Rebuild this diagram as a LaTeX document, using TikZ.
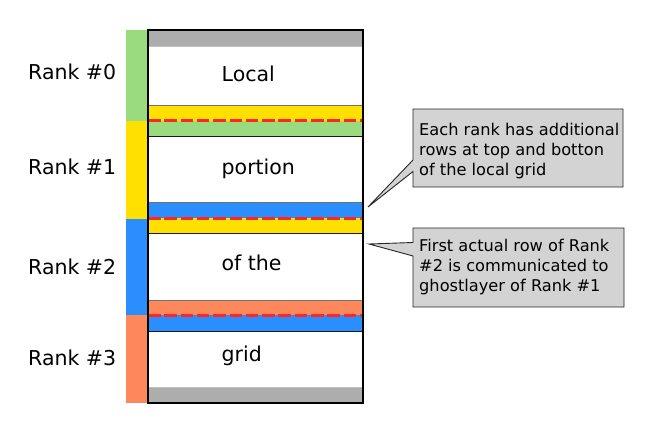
\documentclass[tikz,border=0pt]{standalone}
\usepackage{fontspec}
\setmainfont{DejaVu Sans}
\definecolor{rgreen}{HTML}{99DB7E}
\definecolor{ryellow}{HTML}{FFE000}
\definecolor{rblue}{HTML}{2A8EFF}
\definecolor{rsalmon}{HTML}{FF875C}
\definecolor{rgray}{HTML}{ADADAD}
\definecolor{rcall}{HTML}{D3D3D3}
\definecolor{rred}{HTML}{FF2626}
\begin{document}
\begin{tikzpicture}[x=1pt,y=-1pt,
  lbl/.style={inner sep=0pt, anchor=base west, font=\fontsize{20.5}{25}\selectfont},
  calltext/.style={inner sep=0pt, anchor=west, align=left, font=\fontsize{16.2}{20}\selectfont},
  callshape/.style={draw=black!85, fill=rcall, line width=0.9pt, line join=miter},
  ghost/.style={draw=rred, line width=3pt, dash pattern=on 12.5pt off 3.8pt},
  sepgray/.style={draw=black!55, line width=0.8pt},
  sepblack/.style={draw=black!90, line width=0.8pt}]
\useasboundingbox (0,0) rectangle (654,434);
% left rank strip
\fill[rgreen] (126,30) rectangle (148,121);
\fill[ryellow] (126,121) rectangle (148,218.5);
\fill[rblue] (126,218.5) rectangle (148,315);
\fill[rsalmon] (126,315) rectangle (148,403);
% bands in the grid
\fill[rgray] (148,30) rectangle (363,46);
\fill[ryellow] (148,105) rectangle (363,120.5);
\fill[rgreen] (148,120.5) rectangle (363,136);
\fill[rblue] (148,202.5) rectangle (363,218);
\fill[ryellow] (148,218) rectangle (363,233);
\fill[rsalmon] (148,300) rectangle (363,315);
\fill[rblue] (148,315) rectangle (363,331);
\fill[rgray] (148,387) rectangle (363,403);
% separators
\draw[sepgray] (148,105) -- (363,105);
\draw[sepgray] (148,202.5) -- (363,202.5);
\draw[sepgray] (148,300) -- (363,300);
\draw[draw=black!25, line width=0.8pt] (148,46) -- (363,46);
\draw[draw=black!25, line width=0.8pt] (148,387) -- (363,387);
\draw[sepblack] (148,136) -- (363,136);
\draw[sepblack] (148,233) -- (363,233);
\draw[sepblack] (148,331) -- (363,331);
% ghost layer dashed lines
\draw[ghost] (148,120.5) -- (363,120.5);
\draw[ghost] (148,218) -- (363,218);
\draw[ghost] (148,315) -- (363,315);
% grid outline
\draw[line width=1.3pt] (148,30) rectangle (363,403);
% rank labels
\node[lbl] (r0) at (28,79) {Rank \#0};
\node[lbl] (r1) at (28,174.3) {Rank \#1};
\node[lbl] (r2) at (28,274.3) {Rank \#2};
\node[lbl] (r3) at (28,365) {Rank \#3};
% grid labels
\node[lbl] (t0) at (221.5,81) {Local};
\node[lbl] (t1) at (221.5,174.3) {portion};
\node[lbl] (t2) at (221.5,270) {of the};
\node[lbl] (t3) at (221.5,361) {grid};
% callouts
\coordinate (tip1) at (368,207);
\coordinate (tip2) at (369,244);
\draw[callshape] (413,109) -- (623,109) -- (623,187) -- (413,187) -- (413,171.5) -- (tip1) -- (413,160) -- cycle;
\draw[callshape] (413,228) -- (624,228) -- (624,307) -- (413,307) -- (413,256) -- (tip2) -- (413,242.5) -- cycle;
\node[calltext] (c1) at (419,150.7) {Each rank has additional\\rows at top and botton\\of the local grid};
\node[calltext] (c2) at (419,267.5) {First actual row of Rank\\\#2 is communicated to\\ghostlayer of Rank \#1};
\end{tikzpicture}
\end{document}
